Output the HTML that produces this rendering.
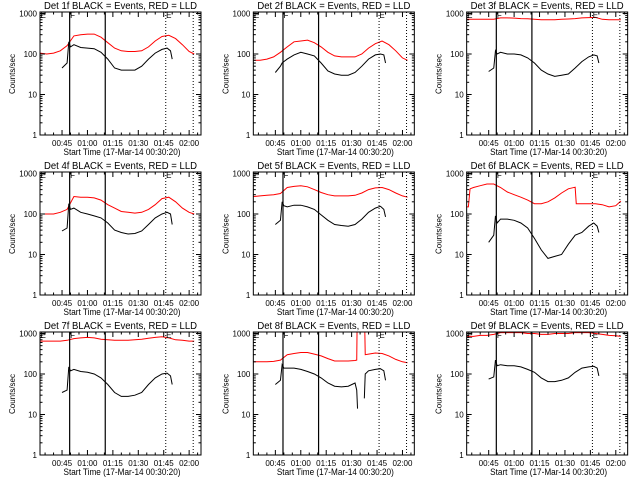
<!DOCTYPE html>
<html><head><meta charset="utf-8"><style>
html,body{margin:0;padding:0;background:#fff;width:640px;height:480px;overflow:hidden}
svg text{font-family:"Liberation Sans",sans-serif;fill:#000}
</style></head><body>
<svg id="chart" width="640" height="480" xmlns="http://www.w3.org/2000/svg"></svg>
<script>
// ---- data (time in minutes after 00:00, rates in counts/sec) ----
const panelNames = ["1f","2f","3f","4f","5f","6f","7f","8f","9f"];
const redT_std = [32,36,40,44,48,52,56,60,64,68,72,76,80,84,88,92,96,100,104,108,112,116,120,123];
const blackT_std = [45,48,49,50,52,56,60,64,68,72,76,80,84,88,92,96,100,104,107,109,110];
const red1 = [105,100,105,120,160,280,300,310,310,260,190,140,120,115,115,120,150,210,270,290,240,170,115,100];
const black1 = [45,60,200,150,170,145,140,135,110,75,45,40,40,40,50,75,105,130,140,120,75];
const red2 = [70,70,75,85,110,150,200,210,220,190,150,110,90,85,85,85,100,140,180,210,170,120,80,70];
const black2 = [35,50,60,65,75,95,110,100,90,60,38,32,30,30,35,50,75,95,100,95,60];
const red3 = [720,720,720,720,720,780,780,770,750,740,720,700,700,700,720,730,750,780,790,800,720,700,700,700];
const black3 = [37,45,120,100,110,100,100,95,80,60,40,32,28,30,32,45,65,85,95,90,60];
const red4 = [100,100,100,110,130,270,260,260,250,220,170,140,115,110,105,110,130,170,240,260,200,140,110,100];
const black4 = [38,45,180,130,140,110,100,90,80,60,40,35,32,33,38,55,80,100,110,100,55];
const red5 = [270,280,290,300,320,450,480,500,470,400,340,300,280,280,280,290,330,400,440,450,400,330,280,260];
const black5 = [55,70,200,160,150,165,165,150,130,95,70,55,52,50,55,75,110,140,155,130,85];
const redT6 = [32,33,34,36,40,44,48,52,56,60,64,68,72,76,80,84,88,92,96,96.7,100,104,108,112,116,120,123];
const red6 = [150,150,420,450,500,550,550,450,350,300,260,220,180,180,200,250,330,420,460,180,180,180,180,170,150,160,210];
const black6 = [20,30,90,60,75,75,70,60,45,25,13,8,9,10,18,30,35,50,60,50,35];
const red7 = [650,650,650,650,680,750,780,800,780,720,700,680,680,680,700,720,760,800,830,780,700,680,650,650];
const black7 = [35,40,150,120,130,115,110,100,80,55,35,28,28,30,35,55,80,100,105,90,55];
const redT8 = [32,36,40,44,48,52,56,60,64,68,72,76,80,84,88,92,93,93.2,97.8,98,100,104,108,112,116,120,123];
const red8 = [200,200,200,205,220,300,320,340,340,310,280,240,210,210,210,215,220,1500,1500,300,310,330,320,280,230,200,190];
const blackT8 = [45,48,49,50,52,56,60,64,68,72,76,80,84,88,92,93,93.5,95,97.5,98,100,104,107,109,110];
const black8 = [55,70,170,140,140,140,130,115,100,80,60,50,48,50,60,40,14,null,25,100,120,130,135,120,70];
const red9 = [850,850,900,900,950,1050,1050,1050,1050,1000,1000,950,950,1000,1000,1000,1050,1050,1050,1000,950,900,880,850];
const black9 = [75,85,220,160,170,160,160,150,130,110,80,65,65,70,80,110,140,150,155,140,90];
const redSeries = [red1,red2,red3,red4,red5,red6,red7,red8,red9];
const blackSeries = [black1,black2,black3,black4,black5,black6,black7,black8,black9];
const redTimes = [redT_std,redT_std,redT_std,redT_std,redT_std,redT6,redT_std,redT8,redT_std];
const blackTimes = [blackT_std,blackT_std,blackT_std,blackT_std,blackT_std,blackT_std,blackT_std,blackT8,blackT_std];
const xTickMinutes = [45,60,75,90,105,120];
const xTickLabels = ["00:45","01:00","01:15","01:30","01:45","02:00"];
const yTickValues = [1,10,100,1000];
const yTickLabels = ["1","10","100","1000"];
const solidLineTimes = [49.5,70.5];
const dottedLineTimes = [106.2,122.4];
const eventMarkTimes = [32.3,49.8,106.4];
const eventMarkLetters = ["E","F","E"];

const NS = "http://www.w3.org/2000/svg";
const svg = document.getElementById("chart");
const BX0=40, BX1=201, BY0=12, BY1=135;
const T0=32, T1=127;
function xs(t){return BX0+(t-T0)*(BX1-BX0)/(T1-T0);}
function ys(v){let y=BY1-40.5*Math.log10(v);return Math.max(BY0,Math.min(BY1,y));}
function mk(tag,attrs,parent){const e=document.createElementNS(NS,tag);for(const k in attrs)e.setAttribute(k,attrs[k]);parent.appendChild(e);return e;}

function linePath(ts,vs){let d="",pen=false;for(let i=0;i<ts.length;i++){if(vs[i]==null){pen=false;continue;}d+=(pen?"L":"M")+xs(ts[i]).toFixed(1)+","+ys(vs[i]).toFixed(1);pen=true;}return d;}

for(let p=0;p<9;p++){
  const c=p%3, r=Math.floor(p/3);
  const g=mk("g",{transform:"translate("+(c*213.33).toFixed(2)+","+(r*160)+")"},svg);
  
  
  const t=mk("text",{x:(BX0+BX1)/2,y:9,"font-size":"10","text-anchor":"middle",textLength:"153",lengthAdjust:"spacingAndGlyphs"},g);
  t.textContent="Det "+panelNames[p]+" BLACK = Events, RED = LLD";
  
  
  const rp=mk("path",{d:linePath(redTimes[p],redSeries[p]),fill:"none",stroke:"#ff0000","stroke-width":"1"},g);
  
  
  const bp=mk("path",{d:linePath(blackTimes[p],blackSeries[p]),fill:"none",stroke:"#000","stroke-width":"1"},g);
  
  
  solidLineTimes.forEach(tm=>{const l=mk("line",{x1:xs(tm),x2:xs(tm),y1:BY0,y2:BY1,stroke:"#000","stroke-width":"1.2"},g);
    
    });
  dottedLineTimes.forEach(tm=>{const l=mk("line",{x1:xs(tm),x2:xs(tm),y1:BY0,y2:BY1,stroke:"#000","stroke-width":"1","stroke-dasharray":"1,2"},g);
    
    });
  eventMarkTimes.forEach((tm,i)=>{const e=mk("text",{x:xs(tm),y:BY0+6,"font-size":"8"},g);e.textContent=eventMarkLetters[i];
    
    });
  const bx=mk("rect",{x:BX0,y:BY0,width:BX1-BX0,height:BY1-BY0,fill:"none",stroke:"#000","stroke-width":"1"},g);
  
  
  yTickValues.forEach((v,i)=>{const y=BY1-40.5*Math.log10(v);
    mk("line",{x1:BX0,x2:BX0+5,y1:y,y2:y,stroke:"#000"},g);mk("line",{x1:BX1-5,x2:BX1,y1:y,y2:y,stroke:"#000"},g);
    const lb=mk("text",{x:BX0-3,y:y+3,"font-size":"8","text-anchor":"end"},g);lb.textContent=yTickLabels[i];
    
    
    if(i<yTickValues.length-1)for(let m=2;m<10;m++){const ym=BY1-40.5*Math.log10(v*m);
      mk("line",{x1:BX0,x2:BX0+2.5,y1:ym,y2:ym,stroke:"#000"},g);mk("line",{x1:BX1-2.5,x2:BX1,y1:ym,y2:ym,stroke:"#000"},g);}
  });
  for(let m=35;m<=125;m+=5){const x=xs(m);const major=xTickMinutes.includes(m);const L=major?5:2.5;
    mk("line",{x1:x,x2:x,y1:BY1,y2:BY1-L,stroke:"#000"},g);mk("line",{x1:x,x2:x,y1:BY0,y2:BY0+L,stroke:"#000"},g);}
  xTickMinutes.forEach((m,i)=>{const lb=mk("text",{x:xs(m),y:146,"font-size":"8","text-anchor":"middle"},g);lb.textContent=xTickLabels[i];
    
    });
  const xl=mk("text",{x:122,y:155,"font-size":"9","text-anchor":"middle",textLength:"117",lengthAdjust:"spacingAndGlyphs"},g);
  xl.textContent="Start Time (17-Mar-14 00:30:20)";
  
  
  const yl=mk("text",{x:0,y:0,"font-size":"8","text-anchor":"middle",transform:"translate(15,74) rotate(-90)"},g);
  yl.textContent="Counts/sec";
  
  
}
</script>
</body></html>
